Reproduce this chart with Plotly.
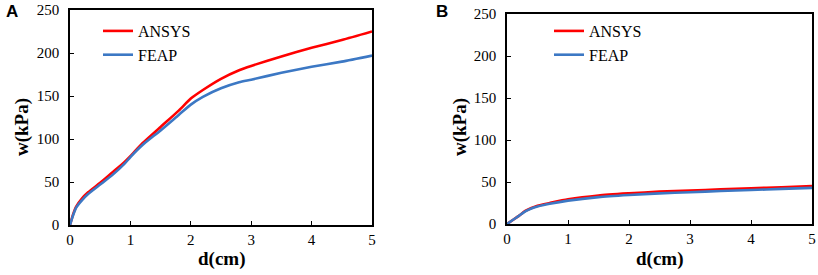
import plotly.graph_objects as go

# Panel A data
a_x = [0, 0.05, 0.1, 0.2, 0.3, 0.5, 0.7, 0.9, 1.0, 1.2, 1.5, 1.8, 2.0, 2.2, 2.5, 2.8, 3.0, 3.5, 4.0, 4.5, 5.0]
a_ansys = [0, 12, 21, 31, 38, 49, 61, 73, 80, 95, 114, 133, 147, 157, 170, 180, 185, 196, 206, 215, 225]
a_feap = [0, 11, 20, 29, 36, 47, 58, 71, 79, 93, 110, 128, 140, 149, 159, 166, 169, 177, 184, 190, 197]

# Panel B data
b_x = [0, 0.1, 0.2, 0.3, 0.4, 0.5, 0.7, 1.0, 1.5, 2.0, 2.5, 3.0, 3.5, 4.0, 4.5, 5.0]
b_ansys = [0, 5, 10, 15.5, 19, 21.8, 25, 29.4, 34, 36.5, 38.5, 39.8, 41.2, 42.5, 43.8, 45.3]
b_feap = [0, 5, 10, 15, 18.5, 20.8, 24, 27.8, 32, 34.5, 36.5, 37.8, 39.2, 40.5, 41.8, 43]

x_ticks = [0, 1, 2, 3, 4, 5]
y_ticks = [0, 50, 100, 150, 200, 250]
series_names = ["ANSYS", "FEAP"]

RED = "#FF0000"
BLUE = "#3C78C4"
SERIF = "Times New Roman, Liberation Serif, serif"

fig = go.Figure()
for name, ys, col in [(series_names[0], a_ansys, RED), (series_names[1], a_feap, BLUE)]:
    fig.add_trace(go.Scatter(x=a_x, y=ys, mode="lines", name=name,
                             line=dict(color=col, width=2.6, shape="spline", smoothing=0.6),
                             xaxis="x", yaxis="y", legend="legend"))
for name, ys, col in [(series_names[0], b_ansys, RED), (series_names[1], b_feap, BLUE)]:
    fig.add_trace(go.Scatter(x=b_x, y=ys, mode="lines", name=name,
                             line=dict(color=col, width=2.6, shape="spline", smoothing=0.6),
                             xaxis="x2", yaxis="y2", legend="legend2"))

W, H = 818, 275
def px(x):
    return x / W
def py(y):
    return (H - y) / H

axis_common = dict(
    showline=True, linecolor="black", linewidth=1.5, mirror=True,
    ticks="inside", ticklen=4, tickwidth=1.3, tickcolor="black",
    showgrid=False, zeroline=False, automargin=False,
    ticklabeloverflow="allow",
    tickfont=dict(family=SERIF, size=15, color="black"),
)

fig.update_layout(
    width=W, height=H,
    margin=dict(l=0, r=0, t=0, b=0, autoexpand=False),
    paper_bgcolor="white", plot_bgcolor="white",
    xaxis=dict(domain=[px(70), px(372)], range=[0, 5], tickvals=x_ticks, anchor="y", **axis_common),
    yaxis=dict(domain=[py(225), py(10)], range=[0, 250], tickvals=y_ticks, anchor="x",
               ticklabelstandoff=6, **axis_common),
    xaxis2=dict(domain=[px(507), px(812)], range=[0, 5], tickvals=x_ticks, anchor="y2", **axis_common),
    yaxis2=dict(domain=[py(224), py(14)], range=[0, 250], tickvals=y_ticks, anchor="x2",
                ticklabelstandoff=6, **axis_common),
    legend=dict(x=px(98), y=py(14), xanchor="left", yanchor="top",
                font=dict(family=SERIF, size=16, color="black"),
                bgcolor="rgba(0,0,0,0)", itemwidth=30, tracegroupgap=0),
    legend2=dict(x=px(549), y=py(14), xanchor="left", yanchor="top",
                 font=dict(family=SERIF, size=16, color="black"),
                 bgcolor="rgba(0,0,0,0)", itemwidth=30, tracegroupgap=0),
    showlegend=True,
)

title_font = dict(family=SERIF, size=19, color="black")
annotations = [
    dict(text="<b>d(cm)</b>", x=(px(70) + px(372)) / 2, y=py(259), xref="paper", yref="paper",
         showarrow=False, font=title_font, xanchor="center", yanchor="middle"),
    dict(text="<b>d(cm)</b>", x=(px(507) + px(812)) / 2, y=py(259), xref="paper", yref="paper",
         showarrow=False, font=title_font, xanchor="center", yanchor="middle"),
    dict(text="<b>w(kPa)</b>", x=px(22), y=py(127), xref="paper", yref="paper", textangle=-90,
         showarrow=False, font=title_font, xanchor="center", yanchor="middle"),
    dict(text="<b>w(kPa)</b>", x=px(460), y=py(127), xref="paper", yref="paper", textangle=-90,
         showarrow=False, font=title_font, xanchor="center", yanchor="middle"),
    dict(text="<b>A</b>", x=px(12), y=py(11), xref="paper", yref="paper",
         showarrow=False, font=dict(family="Liberation Sans", size=17, color="black"),
         xanchor="center", yanchor="middle"),
    dict(text="<b>B</b>", x=px(442), y=py(11), xref="paper", yref="paper",
         showarrow=False, font=dict(family="Liberation Sans", size=17, color="black"),
         xanchor="center", yanchor="middle"),
]
fig.update_layout(annotations=annotations)

# remove the default 8px page margin so the figure sits at the window's corner
fig.write_html("out.html", config={"displayModeBar": False},
               post_script="document.body.style.margin='0';")
